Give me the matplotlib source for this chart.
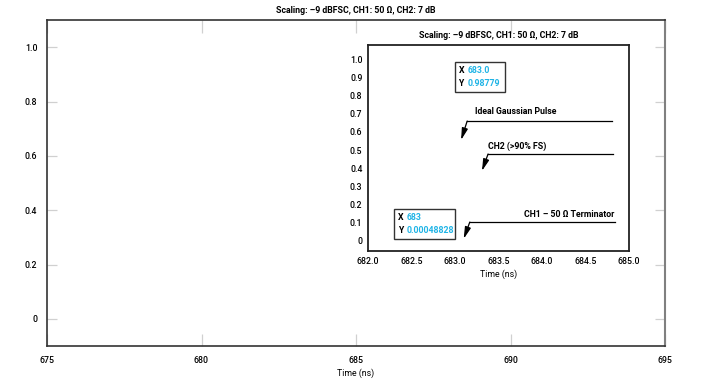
import matplotlib.pyplot as plt
import matplotlib.patches as patches

plt.rcParams['font.family'] = ['Roboto', 'DejaVu Sans']
plt.rcParams['font.weight'] = 'medium'

title = "Scaling: \u20139 dBFSC, CH1: 50 \u03a9, CH2: 7 dB"

# main axes
main_xticks = [675, 680, 685, 690, 695]
main_yticks = [0, 0.2, 0.4, 0.6, 0.8, 1.0]
main_ylabels = ["0", "0.2", "0.4", "0.6", "0.8", "1.0"]

# zoomed inset
inset_xticks = [682.0, 682.5, 683.0, 683.5, 684.0, 684.5, 685.0]
inset_yticks = [0, 0.1, 0.2, 0.3, 0.4, 0.5, 0.6, 0.7, 0.8, 0.9, 1.0]
inset_ylabels = ["0", "0.1", "0.2", "0.3", "0.4", "0.5", "0.6", "0.7", "0.8", "0.9", "1.0"]

# cursor readouts
cursor_x = ["683.0", "683"]
cursor_y = ["0.98779", "0.00048828"]

trace_labels = ["Ideal Gaussian Pulse", "CH2 (>90% FS)", "CH1 \u2013 50 \u03a9 Terminator"]

cyan = "#1fb4e6"
fs = 6.3

fig = plt.figure(figsize=(7.09, 3.90), dpi=100)
W, H = 709, 390

def px(l, t, r, b):
    return [l / W, 1 - b / H, (r - l) / W, (b - t) / H]

ax = fig.add_axes(px(47, 20, 665, 346))
ax.set_xlim(675, 695)
ax.set_ylim(-0.1, 1.1)
ax.set_xticks(main_xticks)
ax.set_xticklabels([str(v) for v in main_xticks], fontsize=fs)
ax.set_yticks(main_yticks)
ax.set_yticklabels(main_ylabels, fontsize=fs)
ax.tick_params(axis='x', direction='in', length=9, width=0.9, color='#d0d0d0',
               top=True, pad=7)
ax.tick_params(axis='y', direction='in', length=7, width=0.9, color='#d0d0d0',
               right=True, pad=7)
for s in ['left', 'top', 'bottom']:
    ax.spines[s].set_color('#333333')
    ax.spines[s].set_linewidth(1.2)
ax.spines['right'].set_color('#808080')
ax.spines['right'].set_linewidth(1.5)
ax.set_xlabel("Time (ns)", fontsize=fs, labelpad=3)
ax.set_title(title, fontsize=fs, fontweight='semibold', pad=5)

ins = fig.add_axes(px(368, 45, 629, 251))
ins.set_xlim(682, 685)
ins.set_ylim(-0.055, 1.077)
ins.set_xticks(inset_xticks)
ins.set_xticklabels([f"{v:.1f}" for v in inset_xticks], fontsize=fs)
ins.set_yticks(inset_yticks)
ins.set_yticklabels(inset_ylabels, fontsize=fs)
ins.tick_params(length=0, pad=4)
for s in ins.spines.values():
    s.set_color('#222222')
    s.set_linewidth(1.3)
ins.set_xlabel("Time (ns)", fontsize=fs, labelpad=3)
ins.set_title(title, fontsize=fs, fontweight='semibold', pad=5)

# arrows: start -> bend -> tip
arrows = [
    ((684.80, 0.659), (683.14, 0.659), (683.07, 0.555)),
    ((684.82, 0.478), (683.38, 0.478), (683.31, 0.385)),
    ((684.84, 0.104), (683.17, 0.104), (683.10, 0.012)),
]
for start, bend, tip in arrows:
    ins.plot([start[0], bend[0]], [start[1], bend[1]], color='black', lw=0.9)
    ins.annotate("", xy=tip, xytext=bend,
                 arrowprops=dict(arrowstyle='-|>,head_length=0.7,head_width=0.18',
                                 color='black', lw=0.9, shrinkA=0, shrinkB=0))

ins.text(683.23, 0.71, trace_labels[0], fontsize=fs, fontweight='semibold', va='center')
ins.text(683.38, 0.522, trace_labels[1], fontsize=fs, fontweight='semibold', va='center')
ins.text(684.83, 0.143, trace_labels[2], fontsize=fs, fontweight='semibold', va='center', ha='right')

# cursor boxes
boxes = [((683.0, 0.819), 0.57, 0.165), ((682.30, 0.011), 0.70, 0.165)]
for i, ((bx, by), bw, bh) in enumerate(boxes):
    ins.add_patch(patches.Rectangle((bx, by), bw, bh, fill=False, ec='#333333', lw=1.0))
    ins.text(bx + 0.04, by + bh * 0.72, "X", fontsize=fs, va='center', fontweight='semibold')
    ins.text(bx + 0.14, by + bh * 0.72, cursor_x[i], fontsize=fs, va='center',
             color=cyan, fontweight='semibold')
    ins.text(bx + 0.04, by + bh * 0.28, "Y", fontsize=fs, va='center', fontweight='semibold')
    ins.text(bx + 0.14, by + bh * 0.28, cursor_y[i], fontsize=fs, va='center',
             color=cyan, fontweight='semibold')

fig.savefig("out.png", dpi=100)
